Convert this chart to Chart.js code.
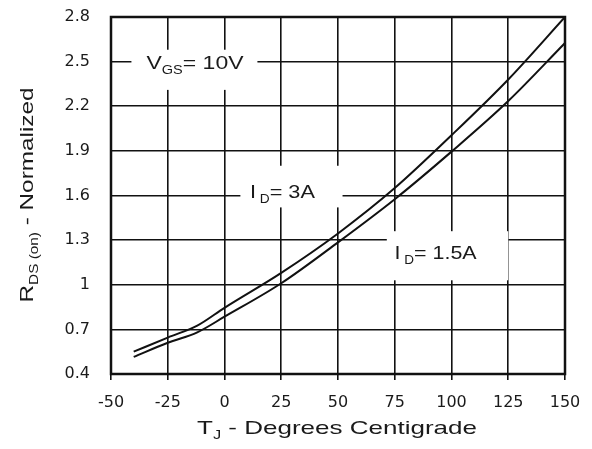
<!DOCTYPE html>
<html>
<head>
<meta charset="utf-8">
<script src="https://cdn.jsdelivr.net/npm/chart.js@4.4.0/dist/chart.umd.min.js"></script>
<style>
html,body{margin:0;padding:0;background:#fff;}
#wrap{width:592px;height:449px;position:relative;}
</style>
</head>
<body>
<div id="wrap"><canvas id="c" width="592" height="449"></canvas></div>
<script>
// Data
const temps = [-40, -25, -12, 0, 25, 50, 75, 100, 125, 150];
const rds_3A = [0.55, 0.645, 0.725, 0.845, 1.08, 1.345, 1.65, 2.005, 2.38, 2.8];
const rds_1_5A = [0.515, 0.61, 0.68, 0.785, 1.01, 1.285, 1.575, 1.895, 2.235, 2.625];
const xTicks = [-50, -25, 0, 25, 50, 75, 100, 125, 150];
const yTicks = [0.4, 0.7, 1, 1.3, 1.6, 1.9, 2.2, 2.5, 2.8];
const yTickLabels = ['0.4', '0.7', '1', '1.3', '1.6', '1.9', '2.2', '2.5', '2.8'];

const FONT = '"Liberation Sans", Arial, sans-serif';
const TICKFONT = '"DejaVu Sans", sans-serif';

function drawRich(ctx, parts, x, y, size, align, stretch, targetW) {
  ctx.save();
  ctx.textBaseline = 'alphabetic';
  ctx.fillStyle = '#1a1a1a';
  const widths = parts.map(p => {
    ctx.font = (p[1] ? Math.round(size * 0.62) : size) + 'px ' + FONT;
    return ctx.measureText(p[0]).width;
  });
  const nat = widths.reduce((a, b) => a + b, 0);
  const s = targetW ? targetW / nat : stretch;
  const total = nat * s;
  const sx = align === 'center' ? x - total / 2 : x;
  ctx.translate(sx, y);
  ctx.scale(s, 1);
  let cx = 0;
  parts.forEach((p, i) => {
    ctx.font = (p[1] ? Math.round(size * 0.62) : size) + 'px ' + FONT;
    ctx.fillText(p[0], cx, p[1] ? size * 0.28 : 0);
    cx += widths[i];
  });
  ctx.restore();
}

const annotations = [
  {box: [-41, 14.5, 2.58, 2.31], text: [['V', false], ['GS', true], ['= 10V', false]], at: [-13, 2.5], w: 97},
  {box: [7, 52, 1.80, 1.52], text: [['I', false], [' D', true], ['= 3A', false]], at: [25.5, 1.63], w: 65},
  {box: [71.5, 125, 1.36, 1.03], text: [['I', false], [' D', true], ['= 1.5A', false]], at: [93, 1.22], w: 82}
];

const annotPlugin = {
  id: 'annot',
  beforeDatasetsDraw(chart) {
    const ctx = chart.ctx;
    const xs = chart.scales.x, ys = chart.scales.y;
    annotations.forEach(a => {
      const x1 = xs.getPixelForValue(a.box[0]), x2 = xs.getPixelForValue(a.box[1]);
      const y1 = ys.getPixelForValue(a.box[2]), y2 = ys.getPixelForValue(a.box[3]);
      ctx.save();
      ctx.fillStyle = '#fff';
      ctx.fillRect(x1, y1, x2 - x1, y2 - y1);
      ctx.restore();
      drawRich(ctx, a.text, xs.getPixelForValue(a.at[0]), ys.getPixelForValue(a.at[1]) + 7, 19, 'center', 1, a.w);
    });
  },
  afterDraw(chart) {
    const ctx = chart.ctx;
    const ca = chart.chartArea;
    ctx.save();
    ctx.strokeStyle = '#111';
    ctx.lineWidth = 2.5;
    ctx.strokeRect(ca.left, ca.top, ca.right - ca.left, ca.bottom - ca.top);
    ctx.restore();
    drawRich(ctx, [['T', false], ['J', true], [' - Degrees Centigrade', false]], 337, 434, 19, 'center', 1, 280);
    ctx.save();
    ctx.translate(33, 195);
    ctx.rotate(-Math.PI / 2);
    drawRich(ctx, [['R', false], ['DS (on)', true], [' - Normalized', false]], 0, 0, 19, 'center', 1, 215);
    ctx.restore();
  }
};

new Chart(document.getElementById('c'), {
  type: 'line',
  data: {
    datasets: [
      {label: 'ID = 3A', data: temps.map((t, i) => ({x: t, y: rds_3A[i]})), borderColor: '#111', borderWidth: 2, pointRadius: 0, cubicInterpolationMode: 'monotone', fill: false},
      {label: 'ID = 1.5A', data: temps.map((t, i) => ({x: t, y: rds_1_5A[i]})), borderColor: '#111', borderWidth: 2, pointRadius: 0, cubicInterpolationMode: 'monotone', fill: false}
    ]
  },
  options: {
    responsive: false,
    animation: false,
    devicePixelRatio: 1,
    layout: {padding: {left: 0, top: 17, right: 27, bottom: 0}},
    plugins: {legend: {display: false}, tooltip: {enabled: false}},
    scales: {
      x: {
        type: 'linear', min: -50, max: 150,
        afterBuildTicks: ax => { ax.ticks = xTicks.map(v => ({value: v})); },
        afterFit: ax => { ax.height = 75; ax.paddingLeft = 0; ax.paddingRight = 0; ax.paddingTop = 0; ax.paddingBottom = 0; },
        grid: {color: '#111', lineWidth: 1.6, tickLength: 6, drawTicks: true, tickColor: '#111'},
        border: {display: false},
        ticks: {color: '#1a1a1a', font: {family: TICKFONT, size: 16}, padding: 13, maxRotation: 0, autoSkip: false}
      },
      y: {
        type: 'linear', min: 0.4, max: 2.8,
        afterBuildTicks: ax => { ax.ticks = yTicks.map(v => ({value: v})); },
        afterFit: ax => { ax.width = 111; ax.paddingTop = 0; ax.paddingBottom = 0; ax.paddingLeft = 0; ax.paddingRight = 0; },
        grid: {color: '#111', lineWidth: 1.6, drawTicks: false},
        border: {display: false},
        ticks: {color: '#1a1a1a', font: {family: TICKFONT, size: 16}, padding: 21, autoSkip: false,
          callback: (v) => { const i = yTicks.findIndex(t => Math.abs(t - v) < 1e-6); return i >= 0 ? yTickLabels[i] : ''; }}
      }
    }
  },
  plugins: [annotPlugin]
});
</script>
</body>
</html>
